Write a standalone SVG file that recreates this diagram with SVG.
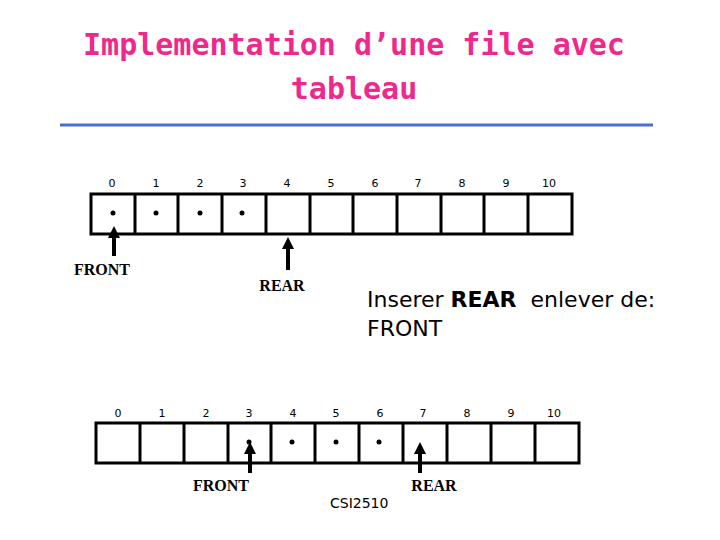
<svg xmlns="http://www.w3.org/2000/svg" width="720" height="540" viewBox="0 0 720 540">
<style>
.t{font-family:"DejaVu Sans Mono","Liberation Mono",monospace;font-weight:bold;font-size:30px;fill:#f0288c;text-anchor:middle}
.d{font-family:"DejaVu Sans","Liberation Sans",sans-serif;font-size:11px;text-anchor:middle}
.c{fill:none;stroke:#000;stroke-width:3}
.l{font-family:"Liberation Serif",serif;font-weight:bold;font-size:16px;text-anchor:middle}
.s{font-family:"DejaVu Sans","Liberation Sans",sans-serif;font-size:22px}
.a{stroke:#000;stroke-width:4;marker-end:url(#ah)}
</style>
<defs><marker id="ah" viewBox="0 0 10 10" refX="5" refY="5" markerWidth="3" markerHeight="3" orient="auto"><path d="M0,0L10,5L0,10z"/></marker></defs>
<rect width="720" height="540" fill="#fff"/>
<text class="t" x="354" y="55">Implementation d’une file avec</text>
<text class="t" x="354" y="99">tableau</text>
<line x1="60" y1="125" x2="653" y2="125" stroke="#4a6fd0" stroke-width="3"/>
<g id="array1">
<rect class="c" x="91" y="194" width="481" height="40"/>
<path class="c" d="M135,194V234M178,194V234M222,194V234M266,194V234M310,194V234M353,194V234M397,194V234M441,194V234M484,194V234M528,194V234"/>
<g class="d"><text x="112" y="187">0</text><text x="156" y="187">1</text><text x="200" y="187">2</text><text x="243" y="187">3</text><text x="287" y="187">4</text><text x="331" y="187">5</text><text x="375" y="187">6</text><text x="418" y="187">7</text><text x="462" y="187">8</text><text x="506" y="187">9</text><text x="549" y="187">10</text></g>
<circle cx="113" cy="213" r="2.5"/><circle cx="156" cy="213" r="2.5"/><circle cx="200" cy="213" r="2.5"/><circle cx="242" cy="213" r="2.5"/>
</g>
<g id="array2">
<rect class="c" x="96" y="423" width="483" height="40"/>
<path class="c" d="M140,423V463M184,423V463M228,423V463M271,423V463M315,423V463M359,423V463M403,423V463M447,423V463M491,423V463M535,423V463"/>
<g class="d"><text x="118" y="417">0</text><text x="162" y="417">1</text><text x="206" y="417">2</text><text x="249" y="417">3</text><text x="293" y="417">4</text><text x="336" y="417">5</text><text x="380" y="417">6</text><text x="423" y="417">7</text><text x="467" y="417">8</text><text x="511" y="417">9</text><text x="554" y="417">10</text></g>
<circle cx="249" cy="442" r="2.5"/><circle cx="292" cy="442" r="2.5"/><circle cx="336" cy="442" r="2.5"/><circle cx="379" cy="442" r="2.5"/>
</g>
<g id="connectors">
<line class="a" x1="114" y1="256" x2="114" y2="232"/>
<line class="a" x1="288" y1="270" x2="288" y2="243"/>
<line class="a" x1="250" y1="473" x2="250" y2="448"/>
<line class="a" x1="420" y1="473" x2="420" y2="448"/>
</g>
<g class="l"><text x="102" y="275">FRONT</text><text x="282" y="291">REAR</text><text x="221" y="491">FRONT</text><text x="434" y="491">REAR</text></g>
<text class="s" x="367" y="307">Inserer <tspan font-weight="bold">REAR</tspan><tspan dx="14">enlever de:</tspan></text>
<text class="s" x="367" y="336">FRONT</text>
<text x="330" y="508" font-family="DejaVu Sans,sans-serif" font-size="14">CSI2510</text>
</svg>
